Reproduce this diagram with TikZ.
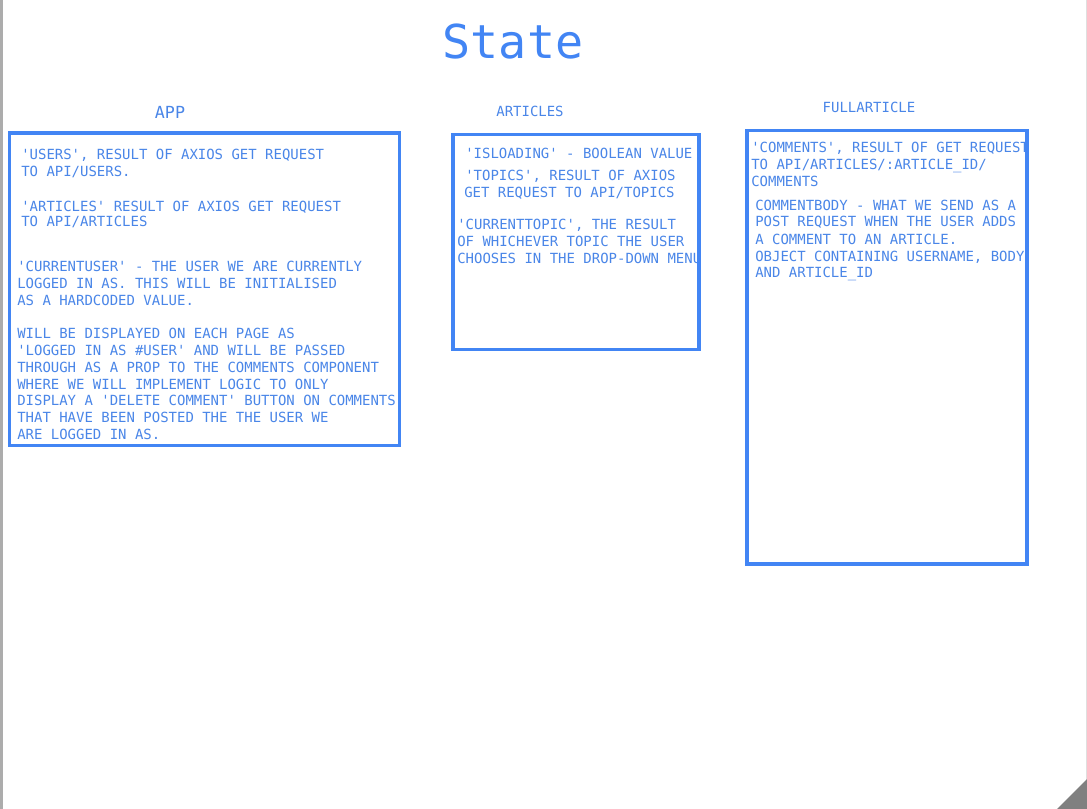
\documentclass[tikz,border=0pt]{standalone}
\usepackage{fontspec}
\setmonofont{DejaVu Sans Mono}
\definecolor{gblue}{HTML}{4285F4}
\definecolor{tblue}{HTML}{4A86E8}
\begin{document}
\begin{tikzpicture}[x=0.75pt,y=-0.75pt,
  txt/.style={anchor=base west,inner sep=0pt,text=tblue,font=\ttfamily\fontsize{10.48pt}{12pt}\selectfont},
  hdr/.style={anchor=base,inner sep=0pt,text=tblue,font=\ttfamily\fontsize{10.48pt}{12pt}\selectfont},
  panel/.style={draw=gblue,line width=2.9pt}]
\useasboundingbox (0,0) rectangle (1087,809);
\fill[white] (0,0) rectangle (1087,809);
\fill[gray!65] (0,0) rectangle (3,809);
\draw[gray!25,line width=0.75pt] (1086.5,0) -- (1086.5,809);
\fill[gray] (1057,809) -- (1087,779) -- (1087,809) -- cycle;
% title
\node[anchor=base,inner sep=0pt,text=gblue,font=\ttfamily\fontsize{35pt}{40pt}\selectfont] (title) at (513,59) {State};
% headers
\node[hdr,font=\ttfamily\fontsize{12.5pt}{14pt}\selectfont] (happ) at (170,119) {APP};
\node[hdr] (hart) at (530,117) {ARTICLES};
\node[hdr] (hfull) at (869,113) {FULLARTICLE};
% APP text
\node[txt] (a1) at (21,160) {'USERS', RESULT OF AXIOS GET REQUEST};
\node[txt] (a2) at (21,177) {TO API/USERS.};
\node[txt] (a3) at (21,211) {'ARTICLES' RESULT OF AXIOS GET REQUEST};
\node[txt] (a4) at (21,227) {TO API/ARTICLES};
\node[txt] (a5) at (17,271) {'CURRENTUSER' - THE USER WE ARE CURRENTLY};
\node[txt] (a6) at (17,288) {LOGGED IN AS. THIS WILL BE INITIALISED};
\node[txt] (a7) at (17,305) {AS A HARDCODED VALUE.};
\node[txt] (a8) at (17,338) {WILL BE DISPLAYED ON EACH PAGE AS};
\node[txt] (a9) at (17,355) {'LOGGED IN AS \#USER' AND WILL BE PASSED};
\node[txt] (a10) at (17,372) {THROUGH AS A PROP TO THE COMMENTS COMPONENT};
\node[txt] (a11) at (17,389) {WHERE WE WILL IMPLEMENT LOGIC TO ONLY};
\node[txt] (a12) at (17,405) {DISPLAY A 'DELETE COMMENT' BUTTON ON COMMENTS};
\node[txt] (a13) at (17,422) {THAT HAVE BEEN POSTED THE THE USER WE};
\node[txt] (a14) at (17,439) {ARE LOGGED IN AS.};
% ARTICLES text
\node[txt] (b1) at (465,159) {'ISLOADING' - BOOLEAN VALUE};
\node[txt] (b2) at (465,181) {'TOPICS', RESULT OF AXIOS};
\node[txt] (b3) at (464,198) {GET REQUEST TO API/TOPICS};
\node[txt] (b4) at (457,229) {'CURRENTTOPIC', THE RESULT};
\node[txt] (b5) at (457,246) {OF WHICHEVER TOPIC THE USER};
\node[txt] (b6) at (457,263) {CHOOSES IN THE DROP-DOWN MENU};
% FULLARTICLE text
\node[txt] (c1) at (751,153) {'COMMENTS', RESULT OF GET REQUEST};
\node[txt] (c2) at (751,170) {TO API/ARTICLES/:ARTICLE\_ID/};
\node[txt] (c3) at (751,187) {COMMENTS};
\node[txt] (c4) at (755,210) {COMMENTBODY - WHAT WE SEND AS A};
\node[txt] (c5) at (755,227) {POST REQUEST WHEN THE USER ADDS};
\node[txt] (c6) at (755,244) {A COMMENT TO AN ARTICLE.};
\node[txt] (c7) at (755,261) {OBJECT CONTAINING USERNAME, BODY};
\node[txt] (c8) at (755,277) {AND ARTICLE\_ID};
% boxes
\fill[white] (699,240) rectangle (712,270);
\draw[panel] (9.5,133) rectangle (399.5,445.5);
\draw[panel] (453,134.5) rectangle (699,349.5);
\draw[panel] (747,130.5) rectangle (1027,564);
\end{tikzpicture}
\end{document}
